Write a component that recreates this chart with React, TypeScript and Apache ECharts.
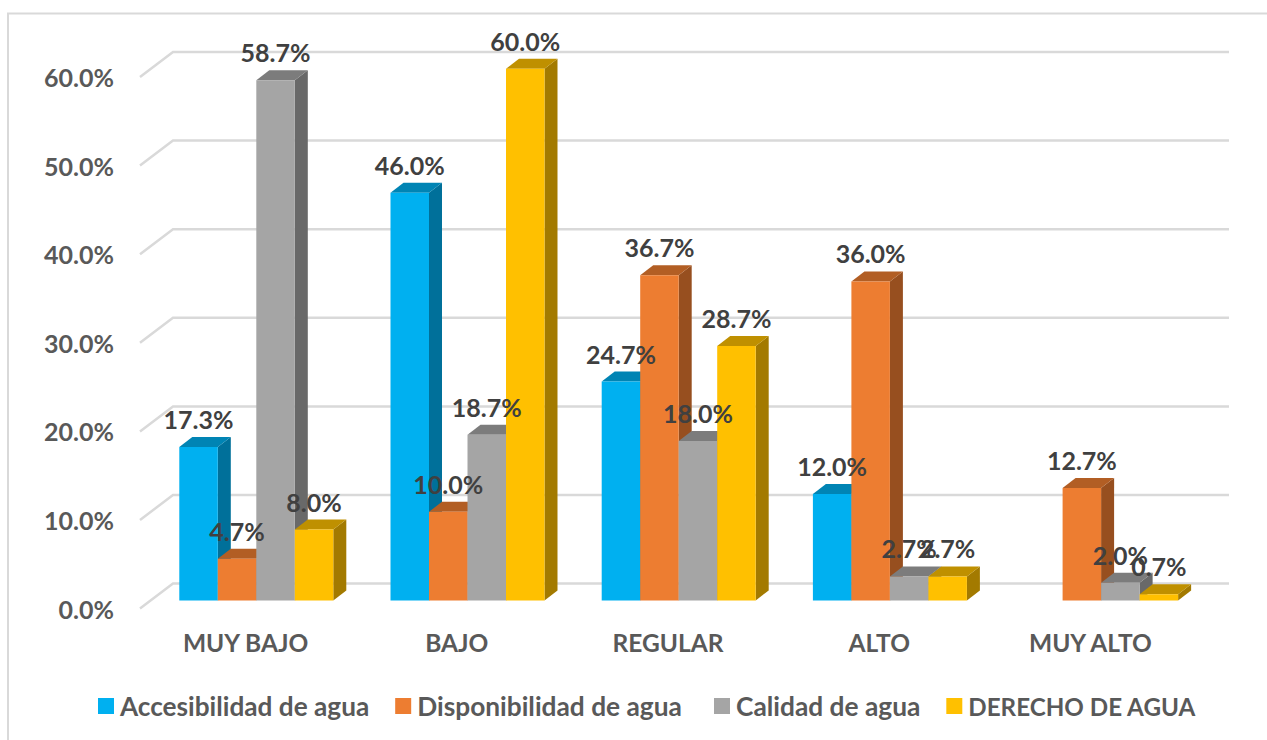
import React, { useEffect, useRef } from "react";
import * as echarts from "echarts";

const categories = ["MUY BAJO", "BAJO", "REGULAR", "ALTO", "MUY ALTO"];
const accesibilidad = [17.3, 46.0, 24.7, 12.0, null];
const disponibilidad = [4.7, 10.0, 36.7, 36.0, 12.7];
const calidad = [58.7, 18.7, 18.0, 2.7, 2.0];
const derecho = [8.0, 60.0, 28.7, 2.7, 0.7];
const gridTicks = [0, 10, 20, 30, 40, 50, 60];

const FONT = "Lato";
const BAR_W = 38.5;
const DX = 13;
const DY = 10;
const OFF_X = 10.7;
const OFF_Y = 8.2;
const WALL_X = 33;
const WALL_Y = 25;

const seriesDefs = [
  { name: "Accesibilidad de agua", values: accesibilidad, front: "#00B0F0", top: "#0084B4", side: "#00709A", legendSize: 26.2 },
  { name: "Disponibilidad de agua", values: disponibilidad, front: "#ED7D31", top: "#B25E24", side: "#974F1F", legendSize: 26.3 },
  { name: "Calidad de agua", values: calidad, front: "#A5A5A5", top: "#7C7C7C", side: "#696969", legendSize: 26.3 },
  { name: "DERECHO DE AGUA", values: derecho, front: "#FFC000", top: "#BF9000", side: "#A37A00", legendSize: 24.2 },
];

function barX(center: number, index: number) {
  return center - 2 * BAR_W + OFF_X + index * BAR_W;
}

function legendPart(left: number, defs: typeof seriesDefs) {
  return {
    left,
    top: 688,
    icon: "rect",
    itemWidth: 16,
    itemHeight: 16,
    itemGap: 26,
    data: defs.map((s) => ({
      name: s.name,
      itemStyle: { color: s.front },
      textStyle: { fontSize: s.legendSize },
    })),
    textStyle: {
      fontFamily: FONT,
      fontWeight: "bold",
      fontSize: 26,
      color: "#595959",
      padding: [0, 0, 0, 1],
    },
  };
}

export default function App() {
  const ref = useRef<HTMLDivElement>(null);
  useEffect(() => {
    if (!ref.current) return;
    document.body.style.margin = "0";
    const chart = echarts.init(ref.current, undefined, { renderer: "svg" });

    const wall: any = {
      type: "custom",
      silent: true,
      z: 1,
      data: gridTicks.map((t) => [0, t]),
      encode: { x: 0, y: 1 },
      renderItem: (params: any, api: any) => {
        const y = api.coord([0, api.value(1)])[1];
        const cs = params.coordSys;
        return {
          type: "polyline",
          shape: {
            points: [
              [cs.x, y],
              [cs.x + WALL_X, y - WALL_Y],
              [cs.x + cs.width + WALL_X, y - WALL_Y],
            ],
          },
          style: { stroke: "#D9D9D9", lineWidth: 2.5, fill: "none" },
        };
      },
    };

    const bars = seriesDefs.map((s, si) => ({
      type: "custom",
      name: s.name,
      z: 2,
      silent: true,
      itemStyle: { color: s.front },
      data: s.values.map((v, i) => [i, v]).filter((d) => d[1] !== null),
      encode: { x: 0, y: 1 },
      renderItem: (_p: any, api: any) => {
        const [cx, yTop0] = api.coord([api.value(0), api.value(1)]);
        const yBase0 = api.coord([api.value(0), 0])[1];
        const x0 = barX(cx, si);
        const x1 = x0 + BAR_W;
        const t = yTop0 - OFF_Y;
        const b = yBase0 - OFF_Y;
        return {
          type: "group",
          children: [
            {
              type: "polygon",
              shape: { points: [[x1, t], [x1 + DX, t - DY], [x1 + DX, b - DY], [x1, b]] },
              style: { fill: s.side },
            },
            {
              type: "polygon",
              shape: { points: [[x0, t], [x0 + DX, t - DY], [x1 + DX, t - DY], [x1, t]] },
              style: { fill: s.top },
            },
            {
              type: "rect",
              shape: { x: x0, y: t, width: BAR_W, height: b - t },
              style: { fill: s.front },
            },
          ],
        };
      },
    }));

    const labels = seriesDefs.map((s, si) => ({
      type: "custom",
      name: s.name + " etiquetas",
      z: 5,
      silent: true,
      data: s.values.map((v, i) => [i, v]).filter((d) => d[1] !== null),
      encode: { x: 0, y: 1 },
      renderItem: (_p: any, api: any) => {
        const v = api.value(1);
        const [cx, y] = api.coord([api.value(0), v]);
        return {
          type: "text",
          style: {
            text: v.toFixed(1) + "%",
            x: barX(cx, si) + BAR_W / 2,
            y: y - OFF_Y - 28,
            align: "center",
            verticalAlign: "middle",
            fontFamily: FONT,
            fontWeight: "bold",
            fontSize: 25,
            fill: "#404040",
          },
        };
      },
    }));

    chart.setOption({
      animation: false,
      backgroundColor: "#ffffff",
      grid: { left: 140, top: 77, width: 1056, height: 531.6, containLabel: false },
      xAxis: {
        type: "category",
        data: categories,
        axisLine: { show: false },
        axisTick: { show: false },
        axisLabel: {
          margin: 21,
          interval: 0,
          fontFamily: FONT,
          fontWeight: "bold",
          fontSize: 24.5,
          color: "#595959",
        },
      },
      yAxis: {
        type: "value",
        min: 0,
        max: 60,
        interval: 10,
        axisLine: { show: false },
        axisTick: { show: false },
        splitLine: { show: false },
        axisLabel: {
          margin: 26,
          padding: [0, 0, 2, 0],
          formatter: (v: number) => v.toFixed(1) + "%",
          fontFamily: FONT,
          fontWeight: "bold",
          fontSize: 25,
          color: "#595959",
        },
      },
      legend: [legendPart(93, seriesDefs.slice(0, 2)), legendPart(709, seriesDefs.slice(2))],
      graphic: [
        {
          type: "polyline",
          silent: true,
          shape: { points: [[8, 740], [8, 13.5], [1267, 13.5]] },
          style: { stroke: "#D9D9D9", lineWidth: 2, fill: "none" },
        },
      ],
      series: [wall, ...bars, ...labels],
    });
    return () => chart.dispose();
  }, []);
  return <div ref={ref} style={{ position: "fixed", left: 0, top: 0, width: 1267, height: 740 }} />;
}
